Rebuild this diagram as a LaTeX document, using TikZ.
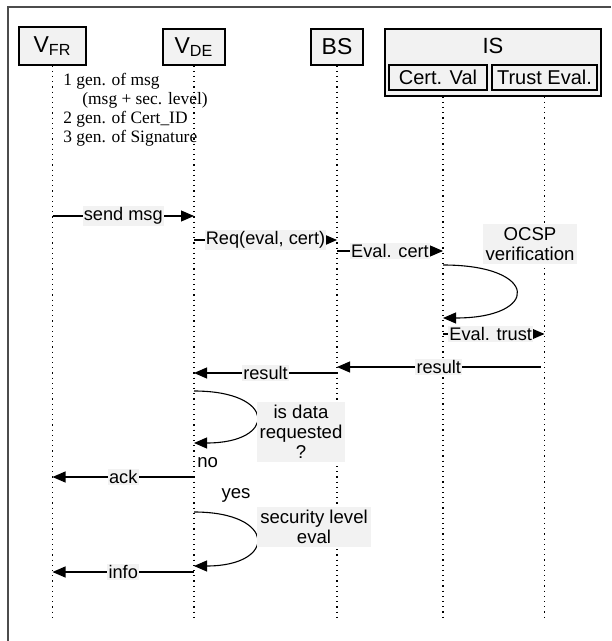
\documentclass[tikz,border=0pt]{standalone}
\usepackage{fontspec}
\setmainfont{Liberation Serif}
\setsansfont{Liberation Sans}
\usetikzlibrary{arrows.meta, positioning, calc}

\begin{document}
\begin{tikzpicture}[x=0.5pt, y=-0.5pt,
      head/.style={draw, line width=0.6pt, fill=gray!10, inner sep=0pt,
                   font=\sffamily\fontsize{11.5}{13}\selectfont},
      sub/.style={font=\sffamily\fontsize{10}{12}\selectfont},
      life/.style={dotted, line width=0.6pt},
      msg/.style={-{Triangle[length=6.5pt, width=5.5pt]}, line width=0.55pt},
      lbl/.style={fill=gray!10, inner sep=0.6pt,
                  font=\sffamily\fontsize{9.1}{10}\selectfont},
      note/.style={fill=gray!10, inner sep=1.5pt, align=center,
                   font=\sffamily\fontsize{9.3}{10}\selectfont},
      plain/.style={inner sep=0pt, font=\sffamily\fontsize{9.3}{10}\selectfont}]
    \useasboundingbox (0,0) rectangle (611,641);
    \draw[gray!60!black, line width=1pt] (8,641) -- (8,7) -- (611,7);

    \node[head, minimum width=33.5pt, minimum height=19pt] (fr) at (52.5,46) {V\textsubscript{FR}};
    \node[head, minimum width=31pt, minimum height=18pt] (de) at (194,47) {V\textsubscript{DE}};
    \node[head, minimum width=26pt, minimum height=18pt] (bs) at (337,47) {BS};
    \node[head, minimum width=108pt, minimum height=33.5pt] (is) at (493,62.5) {};
    \node[plain, font=\sffamily\fontsize{11}{13}\selectfont] (isname) at (493,46) {IS};
    \node[head, sub, minimum width=49pt, minimum height=12.5pt] (cv) at (438,77.5) {Cert. Val};
    \node[head, sub, minimum width=52.5pt, minimum height=12.5pt] (te) at (544.5,77.5) {Trust Eval.};
    \coordinate (cvtop) at (is.south -| 443,0);
    \coordinate (tetop) at (is.south -| te.south);

    \node[anchor=north west, align=left, inner sep=0pt,
          font=\rmfamily\fontsize{8.7}{9.5}\selectfont] (steps) at (63,73)
      {1 gen. of msg\\ \hspace*{9.5pt}(msg + sec. level)\\ 2 gen. of Cert\_ID\\ 3 gen. of Signature};

    \coordinate (bot) at (0,617);
    \draw[life] (fr.south) -- (fr.south |- bot);
    \draw[life] (de.south) -- (de.south |- bot);
    \draw[life] (bs.south) -- (bs.south |- bot);
    \draw[life] (cvtop) -- (cvtop |- bot);
    \draw[life] (tetop) -- (tetop |- bot);

    \coordinate (rsend) at (0,216);
    \coordinate (rreq) at (0,240);
    \coordinate (revc) at (0,251);
    \coordinate (rocspa) at (0,265);
    \coordinate (rocspb) at (0,318);
    \coordinate (revt) at (0,334);
    \coordinate (rresa) at (0,367);
    \coordinate (rresb) at (0,373);
    \coordinate (rreqa) at (0,391);
    \coordinate (rreqb) at (0,443);
    \coordinate (rack) at (0,477);
    \coordinate (rseca) at (0,512);
    \coordinate (rsecb) at (0,566);
    \coordinate (rinfo) at (0,572);

    \draw[msg] (fr.south |- rsend) -- node[lbl] {send msg} (de.south |- rsend);
    \draw[msg] (de.south |- rreq) -- node[lbl] {Req(eval, cert)} (bs.south |- rreq);
    \draw[msg] (bs.south |- revc) -- node[lbl] {Eval. cert} (cvtop |- revc);
    \draw[msg] (cvtop |- rocspa) .. controls +(97,0) and +(97,0) .. (cvtop |- rocspb);
    \node[note] (ocsp) at (530,244) {OCSP\\verification};
    \draw[msg] (cvtop |- revt) -- node[lbl, pos=0.47] {Eval. trust} (tetop |- revt);
    \draw[msg] ([xshift=-2pt]tetop |- rresa) -- node[lbl] {result} (bs.south |- rresa);
    \draw[msg] (bs.south |- rresb) -- node[lbl] {result} (de.south |- rresb);
    \draw[msg] (de.south |- rreqa) .. controls +(83,0) and +(83,0) .. (de.south |- rreqb);
    \node[note] (isdata) at (301,432) {is data\\requested\\?};
    \node[plain, anchor=west] (no) at (197,463) {no};
    \draw[msg] (de.south |- rack) -- node[lbl] {ack} (fr.south |- rack);
    \node[plain] (yes) at (236,495) {yes};
    \draw[msg] (de.south |- rseca) .. controls +(83,0) and +(83,0) .. (de.south |- rsecb);
    \node[note] (seclevel) at (314,527) {security level\\eval};
    \draw[msg] (de.south |- rinfo) -- node[lbl] {info} (fr.south |- rinfo);
  \end{tikzpicture}
\end{document}
